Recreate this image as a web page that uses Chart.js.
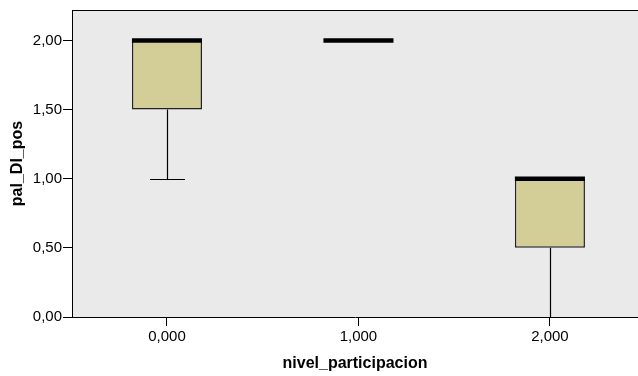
<!DOCTYPE html>
<html>
<head>
<meta charset="utf-8">
<script src="https://cdn.jsdelivr.net/npm/chart.js@4/dist/chart.umd.min.js"></script>
<style>
  html, body { margin: 0; padding: 0; background: #fff; }
  #wrap { width: 638px; height: 376px; }
</style>
</head>
<body>
<div id="wrap"><canvas id="box-plot"></canvas></div>
<script>
const categories = [0, 1, 2];
const q1 = [1.5, 2.0, 0.5];
const q3 = [2.0, 2.0, 1.0];
const medians = [2.0, 2.0, 1.0];
const whiskerLow = [1.0, 2.0, 0.0];
const whiskerHigh = [2.0, 2.0, 1.0];
const yTicks = [0, 0.5, 1, 1.5, 2];

const boxes = categories.map((c, i) => ({ x: c, y: [q1[i], q3[i]] }));

// fondo del área y borde superior
const plotBackground = {
    id: 'plotBackground',
    beforeDraw(chart) {
        const { ctx, chartArea: a } = chart;
        ctx.save();
        ctx.fillStyle = '#eaeaea';
        ctx.fillRect(a.left, a.top, a.right - a.left, a.bottom - a.top);
        ctx.restore();
    },
    afterDraw(chart) {
        const { ctx, chartArea: a } = chart;
        ctx.save();
        ctx.strokeStyle = '#000';
        ctx.lineWidth = 1;
        ctx.beginPath();
        ctx.moveTo(a.left, a.top + 0.5);
        ctx.lineTo(a.right, a.top + 0.5);
        ctx.stroke();
        ctx.restore();
    }
};

// bigotes y medianas
const whiskers = {
    id: 'whiskers',
    afterDatasetsDraw(chart) {
        const { ctx } = chart;
        const y = chart.scales.y;
        const meta = chart.getDatasetMeta(0);
        ctx.save();
        meta.data.forEach((bar, i) => {
            const x = Math.round(bar.x) + 0.5;
            const half = bar.width / 2;
            ctx.strokeStyle = '#000';
            ctx.lineWidth = 1.2;
            if (whiskerLow[i] < q1[i]) {
                const yl = Math.round(y.getPixelForValue(whiskerLow[i])) + 0.5;
                ctx.beginPath();
                ctx.moveTo(x, y.getPixelForValue(q1[i]));
                ctx.lineTo(x, yl);
                ctx.moveTo(x - half / 2, yl);
                ctx.lineTo(x + half / 2, yl);
                ctx.stroke();
            }
            if (whiskerHigh[i] > q3[i]) {
                const yh = Math.round(y.getPixelForValue(whiskerHigh[i])) + 0.5;
                ctx.beginPath();
                ctx.moveTo(x, y.getPixelForValue(q3[i]));
                ctx.lineTo(x, yh);
                ctx.moveTo(x - half / 2, yh);
                ctx.lineTo(x + half / 2, yh);
                ctx.stroke();
            }
            const ym = y.getPixelForValue(medians[i]);
            ctx.lineWidth = 4.5;
            ctx.beginPath();
            ctx.moveTo(bar.x - half, ym);
            ctx.lineTo(bar.x + half, ym);
            ctx.stroke();
        });
        ctx.restore();
    }
};

const canvas = document.getElementById('box-plot');
new Chart(canvas, {
    type: 'bar',
    data: {
        datasets: [{
            data: boxes,
            backgroundColor: '#d3ce97',
            borderColor: '#222',
            borderWidth: 1.5,
            borderSkipped: false,
            categoryPercentage: 1,
            barPercentage: 0.366
        }]
    },
    options: {
        responsive: true,
        maintainAspectRatio: false,
        animation: false,
        layout: { padding: { top: 9, right: 0, left: 0, bottom: 0 } },
        plugins: {
            legend: { display: false },
            tooltip: { enabled: false }
        },
        scales: {
            x: {
                type: 'linear',
                min: -0.496,
                max: 2.46,
                offset: false,
                grid: {
                    offset: false,
                    drawOnChartArea: false,
                    drawTicks: true,
                    tickLength: 9,
                    color: '#000'
                },
                border: { color: '#000', width: 1 },
                ticks: {
                    color: '#000',
                    padding: 2,
                    font: { family: 'Liberation Sans', size: 15 },
                    callback: v => v.toFixed(3).replace('.', ',')
                },
                afterBuildTicks(scale) {
                    scale.ticks = categories.map(v => ({ value: v }));
                },
                title: {
                    display: true,
                    text: 'nivel_participacion',
                    color: '#000',
                    padding: { top: 0, bottom: 3 },
                    font: { family: 'Liberation Sans', size: 16, weight: 'bold' }
                },
                afterFit(scale) { scale.height = 59; }
            },
            y: {
                min: 0,
                max: 2.22,
                grid: {
                    drawOnChartArea: false,
                    drawTicks: true,
                    tickLength: 9,
                    color: '#000'
                },
                border: { color: '#000', width: 1 },
                ticks: {
                    color: '#000',
                    padding: 1,
                    font: { family: 'Liberation Sans', size: 15 },
                    callback: v => v.toFixed(2).replace('.', ',')
                },
                afterBuildTicks(scale) {
                    scale.ticks = yTicks.map(v => ({ value: v }));
                },
                title: {
                    display: true,
                    text: 'pal_DI_pos',
                    color: '#000',
                    padding: { top: 8, bottom: 0 },
                    font: { family: 'Liberation Sans', size: 16, weight: 'bold' }
                },
                afterFit(scale) { scale.width = 72; }
            }
        }
    },
    plugins: [plotBackground, whiskers]
});
</script>
</body>
</html>
